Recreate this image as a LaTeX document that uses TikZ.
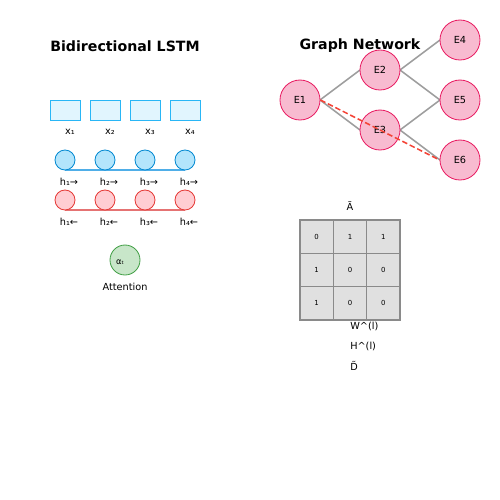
\documentclass[tikz,border=0pt]{standalone}
\usepackage{fontspec}
\setmainfont{DejaVu Sans}
\definecolor{boxfill}{HTML}{E1F5FE}
\definecolor{boxdraw}{HTML}{29B6F6}
\definecolor{ffill}{HTML}{B3E5FC}
\definecolor{fdraw}{HTML}{0288D1}
\definecolor{fline}{HTML}{4FAEE8}
\definecolor{bfill}{HTML}{FFCDD2}
\definecolor{bdraw}{HTML}{E53935}
\definecolor{bline}{HTML}{E57373}
\definecolor{gfill}{HTML}{C8E6C9}
\definecolor{gdraw}{HTML}{43A047}
\definecolor{efill}{HTML}{F8BBD0}
\definecolor{edraw}{HTML}{E91E63}
\definecolor{edgegray}{HTML}{9E9E9E}
\definecolor{dashred}{HTML}{F44336}
\definecolor{cellfill}{HTML}{E0E0E0}
\definecolor{celldraw}{HTML}{8A8A8A}
\begin{document}
\begin{tikzpicture}[x=0.72pt,y=-0.72pt,
  title/.style={font=\bfseries\fontsize{10.2}{12}\selectfont},
  lab/.style={font=\fontsize{7}{8}\selectfont},
  xbox/.style={draw=boxdraw, fill=boxfill, line width=0.6pt, minimum width=21.6pt, minimum height=14.4pt, inner sep=0},
  fcirc/.style={circle, draw=fdraw, fill=ffill, line width=0.6pt, minimum size=14.4pt, inner sep=0},
  bcirc/.style={circle, draw=bdraw, fill=bfill, line width=0.6pt, minimum size=14.4pt, inner sep=0},
  att/.style={circle, draw=gdraw, fill=gfill, line width=0.6pt, minimum size=21.6pt, inner sep=0},
  ent/.style={circle, draw=edraw, fill=efill, line width=0.6pt, minimum size=28.8pt, inner sep=0, font=\fontsize{7}{8}\selectfont},
  gedge/.style={draw=edgegray, line width=1.1pt},
  cell/.style={draw=celldraw, fill=cellfill, line width=0.8pt, minimum size=24pt, inner sep=0, font=\fontsize{5}{6}\selectfont},
]
\useasboundingbox (0,0) rectangle (500,500);
\node[title] (t1) at (125,46) {Bidirectional LSTM};
\node[title] (t2) at (360,46) {Graph Network};
% inputs
\foreach \i/\x in {1/65,2/105,3/145,4/185}{
  \node[xbox] (x\i) at (\x,110) {};
}
\node[lab] (lx1) at (70,132) {x₁};
\node[lab] (lx2) at (110,132) {x₂};
\node[lab] (lx3) at (150,132) {x₃};
\node[lab] (lx4) at (190,132) {x₄};
% forward
\coordinate (fa) at (65,170);
\coordinate (fb) at (185,170);
\draw[fline, line width=0.8pt] (fa) -- (fb);
\foreach \i/\x in {1/65,2/105,3/145,4/185}{
  \node[fcirc] (f\i) at (\x,160) {};
}
\node[lab] (lf1) at (69,182) {h₁→};
\node[lab] (lf2) at (109,182) {h₂→};
\node[lab] (lf3) at (149,182) {h₃→};
\node[lab] (lf4) at (189,182) {h₄→};
% backward
\coordinate (ba) at (65,210);
\coordinate (bb) at (185,210);
\draw[bline, line width=0.8pt] (ba) -- (bb);
\foreach \i/\x in {1/65,2/105,3/145,4/185}{
  \node[bcirc] (b\i) at (\x,200) {};
}
\node[lab] (lb1) at (69,222) {h₁←};
\node[lab] (lb2) at (109,222) {h₂←};
\node[lab] (lb3) at (149,222) {h₃←};
\node[lab] (lb4) at (189,222) {h₄←};
% attention
\node[att] (att) at (125,260) {};
\node[font=\fontsize{6}{7}\selectfont] (alpha) at (120,262) {αₜ};
\node[lab] (attl) at (125,287) {Attention};
% graph edges (behind nodes)
\coordinate (p1) at (320,100);
\coordinate (p2w) at (360,70);
\coordinate (p2e) at (400,70);
\coordinate (p3w) at (360,130);
\coordinate (p3e) at (400,130);
\coordinate (p4) at (440,40);
\coordinate (p5) at (440,100);
\coordinate (p6) at (440,160);
\draw[gedge] (p1) -- (p2w);
\draw[gedge] (p1) -- (p3w);
\draw[gedge] (p2e) -- (p4);
\draw[gedge] (p2e) -- (p5);
\draw[gedge] (p3e) -- (p5);
\draw[gedge] (p3e) -- (p6);
\node[ent] (E1) at (300,100) {E1};
\node[ent] (E2) at (380,70) {E2};
\node[ent] (E3) at (380,130) {E3};
\node[ent] (E4) at (460,40) {E4};
\node[ent] (E5) at (460,100) {E5};
\node[ent] (E6) at (460,160) {E6};
\draw[dashred, dash pattern=on 4pt off 2pt, line width=1.1pt] (E1.east) -- (E6.west);
% matrix
\node[lab] (At) at (350,206) {Ã};
\node[cell] (m11) at (316.67,236.67) {0};
\node[cell] (m12) at (350,236.67) {1};
\node[cell] (m13) at (383.33,236.67) {1};
\node[cell] (m21) at (316.67,270) {1};
\node[cell] (m22) at (350,270) {0};
\node[cell] (m23) at (383.33,270) {0};
\node[cell] (m31) at (316.67,303.33) {1};
\node[cell] (m32) at (350,303.33) {0};
\node[cell] (m33) at (383.33,303.33) {0};
\node[lab, anchor=west, inner sep=0] (W) at (350,326) {W\^{}(l)};
\node[lab, anchor=west, inner sep=0] (H) at (350,346) {H\^{}(l)};
\node[lab, anchor=west, inner sep=0] (D) at (350,366) {D̃};
\end{tikzpicture}
\end{document}
